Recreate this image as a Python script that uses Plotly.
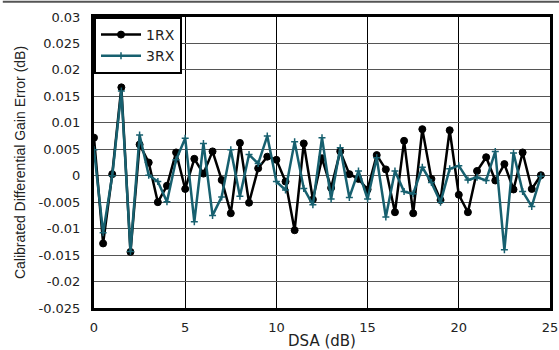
import plotly.graph_objects as go

dsa = [i * 0.5 for i in range(50)]

rx1 = [0.0072, -0.0128, 0.0003, 0.0167, -0.0144, 0.0059, 0.0025, -0.0050, -0.0019, 0.0044,
       -0.0025, 0.0032, 0.0004, 0.0046, -0.0008, -0.0071, 0.0062, -0.0051, 0.0014, 0.0036,
       0.0030, -0.0011, -0.0103, 0.0061, -0.0045, 0.0033, -0.0023, 0.0046, 0.0003, -0.0006,
       -0.0026, 0.0039, 0.0012, -0.0069, 0.0066, -0.0071, 0.0088, -0.0006, -0.0046, 0.0086,
       -0.0036, -0.0069, 0.0009, 0.0035, -0.0009, 0.0022, -0.0026, 0.0044, -0.0025, 0.0001]

rx3 = [0.0049, -0.0108, 0.0000, 0.0160, -0.0143, 0.0077, 0.0001, -0.0011, -0.0049, 0.0030,
       0.0071, -0.0087, 0.0061, -0.0075, -0.0040, 0.0049, -0.0039, 0.0040, 0.0023, 0.0075,
       -0.0011, -0.0027, 0.0064, -0.0024, -0.0055, 0.0072, -0.0044, 0.0053, -0.0041, 0.0009,
       -0.0044, 0.0034, -0.0078, 0.0009, -0.0030, -0.0034, 0.0016, -0.0013, -0.0050, 0.0013,
       0.0019, -0.0008, -0.0003, -0.0009, 0.0046, -0.0140, 0.0043, -0.0030, -0.0058, -0.0001]

y_ticks = [0.03, 0.025, 0.02, 0.015, 0.01, 0.005, 0, -0.005, -0.01, -0.015, -0.02, -0.025]
y_labels = ["0.03", "0.025", "0.02", "0.015", "0.01", "0.005", "0", "-0.005", "-0.01", "-0.015", "-0.02", "-0.025"]
x_ticks = [0, 5, 10, 15, 20, 25]

FONT = "Liberation Sans, Arial, sans-serif"
WIDE = "DejaVu Sans, Liberation Sans, sans-serif"
TEAL = "#17606f"

fig = go.Figure()
fig.add_trace(go.Scatter(
    x=dsa, y=rx1, name="1RX", mode="lines+markers",
    line=dict(color="black", width=2.5),
    marker=dict(symbol="circle", size=7, color="black", line=dict(color="black", width=1)),
))
fig.add_trace(go.Scatter(
    x=dsa, y=rx3, name="3RX", mode="lines+markers",
    line=dict(color=TEAL, width=2.5),
    marker=dict(symbol="cross-thin", size=5, color=TEAL, line=dict(color=TEAL, width=1.5)),
))

fig.update_layout(
    width=559, height=350,
    margin=dict(l=94, r=9, t=17, b=42),
    paper_bgcolor="white", plot_bgcolor="white",
    font=dict(family=WIDE, size=13, color="#222"),
    showlegend=True,
    legend=dict(x=0, y=1, xanchor="left", yanchor="top",
                bgcolor="white", bordercolor="black", borderwidth=2,
                font=dict(family=WIDE, size=14, color="#222"), tracegroupgap=0,
                itemwidth=40),
    shapes=[dict(type="line", xref="paper", yref="paper", x0=-0.2, x1=1.1, y0=1.052, y1=1.052,
                 line=dict(color="#555", width=2))],
)
fig.update_xaxes(
    range=[0, 25], tickvals=x_ticks, showgrid=True, gridcolor="black", gridwidth=1,
    showline=True, linecolor="black", linewidth=3, mirror=True, zeroline=False,
    automargin=False, ticklabeloverflow="allow",
    ticks="", ticklabelstandoff=5, tickfont=dict(family=WIDE, size=13),
    title=dict(text="DSA (dB)", font=dict(family=WIDE, size=15), standoff=3),
)
fig.update_yaxes(
    range=[-0.025, 0.03], tickvals=y_ticks, ticktext=y_labels, showgrid=True,
    gridcolor="#555", gridwidth=1,
    showline=True, linecolor="black", linewidth=3, mirror=True, zeroline=False,
    automargin=False,
    ticks="", ticklabelstandoff=8, tickfont=dict(family=WIDE, size=13),
    title=dict(text="Calibrated Differential Gain Error (dB)", font=dict(family=FONT, size=14), standoff=10),
)

fig.write_html("out.html", config={"displayModeBar": False},
               post_script="document.body.style.margin='0';")
